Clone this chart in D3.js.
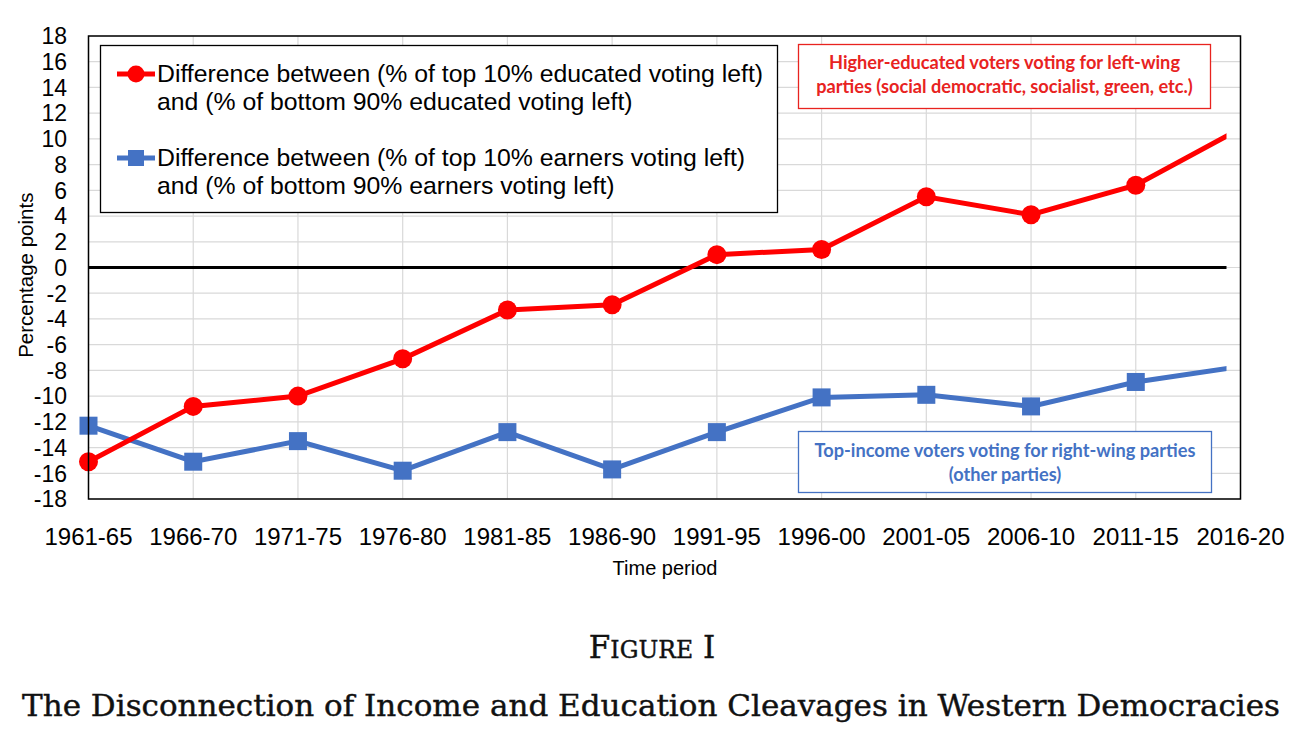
<!DOCTYPE html>
<meta charset="utf-8">
<head>
  <title>Income and education cleavages</title>
</head>
<style>
  body { margin: 0; background: #fff; }
</style>
<body>
<div id="chart"></div>
<script src="https://d3js.org/d3.v7.min.js"></script>
<script>

// periods on the x axis
var periods = ["1961-65","1966-70","1971-75","1976-80","1981-85","1986-90",
               "1991-95","1996-00","2001-05","2006-10","2011-15","2016-20"];

// education gap (top 10% educated minus bottom 90%), percentage points
var educationGap = [-15.1, -10.8, -10.0, -7.1, -3.3, -2.9, 1.0, 1.4, 5.5, 4.1, 6.4, 10.8];

// income gap (top 10% earners minus bottom 90%), percentage points
var incomeGap = [-12.3, -15.1, -13.5, -15.8, -12.8, -15.7, -12.8, -10.1, -9.9, -10.8, -8.9, -7.7];

var yTicks = d3.range(-18, 19, 2);

var legendLabels = [
  ["Difference between (% of top 10% educated voting left)", "and (% of bottom 90% educated voting left)"],
  ["Difference between (% of top 10% earners voting left)", "and (% of bottom 90% earners voting left)"]
];
var redNote = ["Higher-educated voters voting for left-wing", "parties (social democratic, socialist, green, etc.)"];
var blueNote = ["Top-income voters voting for right-wing parties", "(other parties)"];

var RED = "#ff0000", BLUE = "#4472c4";

var W = 1304, H = 738;
var plot = {left: 88.5, right: 1240.5, top: 36, bottom: 499};

var svg = d3.select("#chart").append("svg")
    .attr("width", W).attr("height", H);

var x = d3.scalePoint().domain(periods).range([plot.left, plot.right]);
var y = d3.scaleLinear().domain([-18, 18]).range([plot.bottom, plot.top]);

// gridlines
svg.append("g").selectAll("line.h")
  .data(yTicks).enter().append("line")
    .attr("x1", plot.left).attr("x2", plot.right)
    .attr("y1", function(d){ return y(d); }).attr("y2", function(d){ return y(d); })
    .style("stroke", "#d9d9d9").style("stroke-width", 1.2);
svg.append("g").selectAll("line.v")
  .data(periods).enter().append("line")
    .attr("x1", function(d){ return x(d); }).attr("x2", function(d){ return x(d); })
    .attr("y1", plot.top).attr("y2", plot.bottom)
    .style("stroke", "#d9d9d9").style("stroke-width", 1.2);

// y tick labels
svg.append("g").selectAll("text")
  .data(yTicks).enter().append("text")
    .attr("x", 67).attr("y", function(d){ return y(d); })
    .attr("dy", "0.36em")
    .attr("text-anchor", "end")
    .style("font-family", "Liberation Sans, Arial, sans-serif")
    .style("font-size", "23px")
    .text(function(d){ return d; });

// x tick labels
svg.append("g").selectAll("text")
  .data(periods).enter().append("text")
    .attr("x", function(d){ return x(d); }).attr("y", 545)
    .attr("text-anchor", "middle")
    .style("font-family", "Liberation Sans, Arial, sans-serif")
    .style("font-size", "24px")
    .text(function(d){ return d; });

svg.append("text")
    .attr("x", 665).attr("y", 575)
    .attr("text-anchor", "middle")
    .style("font-family", "Liberation Sans, Arial, sans-serif")
    .style("font-size", "20px")
    .text("Time period");

svg.append("text")
    .attr("transform", "translate(33," + y(-0.6) + ") rotate(-90)")
    .attr("text-anchor", "middle")
    .style("font-family", "Liberation Sans, Arial, sans-serif")
    .style("font-size", "20.5px")
    .text("Percentage points");

// the source's lines stop a little short of the last category
var clipRight = x(periods[periods.length - 1]) - 14;
svg.append("clipPath").attr("id", "clip")
  .append("rect")
    .attr("x", plot.left - 20).attr("y", plot.top - 20)
    .attr("width", clipRight - plot.left + 20).attr("height", plot.bottom - plot.top + 40);

var series = svg.append("g").attr("clip-path", "url(#clip)");

// zero line
series.append("line")
    .attr("x1", plot.left).attr("x2", plot.right)
    .attr("y1", y(0)).attr("y2", y(0))
    .style("stroke", "#000").style("stroke-width", 3);

var line = d3.line()
    .x(function(d, i){ return x(periods[i]); })
    .y(function(d){ return y(d); });

series.append("path").datum(incomeGap)
    .attr("d", line)
    .style("fill", "none").style("stroke", BLUE).style("stroke-width", 5);
series.append("path").datum(educationGap)
    .attr("d", line)
    .style("fill", "none").style("stroke", RED).style("stroke-width", 5);

// markers (no marker on the last period)
series.selectAll("rect.m")
  .data(incomeGap.slice(0, -1)).enter().append("rect")
    .attr("x", function(d, i){ return x(periods[i]) - 9; })
    .attr("y", function(d){ return y(d) - 9; })
    .attr("width", 18).attr("height", 18)
    .style("fill", BLUE);
series.selectAll("circle.m")
  .data(educationGap.slice(0, -1)).enter().append("circle")
    .attr("cx", function(d, i){ return x(periods[i]); })
    .attr("cy", function(d){ return y(d); })
    .attr("r", 9.5)
    .style("fill", RED);

// plot border
svg.append("rect")
    .attr("x", plot.left).attr("y", plot.top)
    .attr("width", plot.right - plot.left).attr("height", plot.bottom - plot.top)
    .style("fill", "none").style("stroke", "#000").style("stroke-width", 1.5);

// legend
var legend = svg.append("g");
legend.append("rect")
    .attr("x", 100.5).attr("y", 45.5).attr("width", 677).attr("height", 167)
    .style("fill", "#fff").style("stroke", "#000").style("stroke-width", 1.3);

[RED, BLUE].forEach(function(col, k){
  var cy = 74 + k * 84;
  legend.append("line")
      .attr("x1", 117).attr("x2", 155).attr("y1", cy).attr("y2", cy)
      .style("stroke", col).style("stroke-width", 5);
  if (k === 0) {
    legend.append("circle").attr("cx", 136).attr("cy", cy).attr("r", 8.5).style("fill", col);
  } else {
    legend.append("rect").attr("x", 128).attr("y", cy - 8).attr("width", 16).attr("height", 16).style("fill", col);
  }
  legendLabels[k].forEach(function(t, j){
    legend.append("text")
        .attr("x", 157).attr("y", cy + 8 + j * 28)
        .style("font-family", "Liberation Sans, Arial, sans-serif")
        .style("font-size", "24.8px")
        .text(t);
  });
});

// annotation boxes
function note(lines, col, bx, by, bw, bh, ty) {
  var g = svg.append("g");
  g.append("rect")
      .attr("x", bx).attr("y", by).attr("width", bw).attr("height", bh)
      .style("fill", "#fff").style("stroke", col).style("stroke-width", 1.3);
  lines.forEach(function(t, j){
    g.append("text")
        .attr("x", bx + bw / 2).attr("y", ty + j * 23.5)
        .attr("text-anchor", "middle")
        .style("font-family", "Lato, 'Open Sans', sans-serif")
        .style("font-weight", "bold")
        .style("font-size", "18.2px")
        .style("fill", col)
        .text(t);
  });
}
note(redNote, "#e8231f", 798.5, 44.5, 412, 64, 69);
note(blueNote, BLUE, 798.5, 431.5, 413, 61, 457);

// figure caption
var cap = svg.append("text")
    .attr("x", 652).attr("y", 658)
    .attr("text-anchor", "middle")
    .style("font-family", "DejaVu Serif, serif")
    .style("fill", "#111")
    .style("stroke", "#111").style("stroke-width", 0.4);
cap.append("tspan").style("font-size", "31px").text("F");
cap.append("tspan").style("font-size", "23.5px").text("IGURE");
cap.append("tspan").style("font-size", "31px").text(" I");

svg.append("text")
    .attr("x", 651).attr("y", 716)
    .attr("text-anchor", "middle")
    .attr("textLength", 1258).attr("lengthAdjust", "spacingAndGlyphs")
    .style("font-family", "DejaVu Serif, serif")
    .style("font-size", "29px")
    .style("fill", "#111")
    .style("stroke", "#111").style("stroke-width", 0.4)
    .text("The Disconnection of Income and Education Cleavages in Western Democracies");

</script>
</body>
